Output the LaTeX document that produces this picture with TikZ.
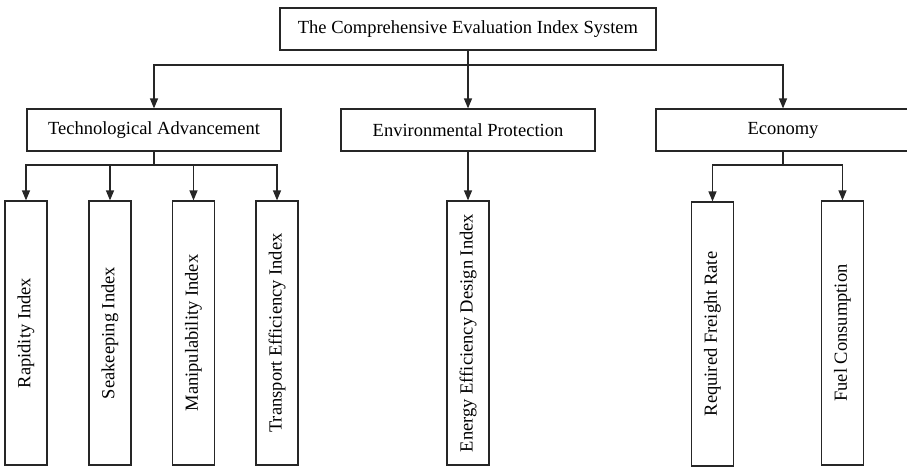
\documentclass[tikz,border=0pt]{standalone}
\usepackage{fontspec}
\setmainfont{Liberation Serif}
\usetikzlibrary{arrows.meta}
\begin{document}
\begin{tikzpicture}[x=1pt,y=-1pt,
  box/.style={draw=black!85,line width=1.2pt,rectangle,inner sep=0pt,align=center,
    font=\fontsize{18.5}{20}\selectfont},
  hbox/.style={box,minimum width=254pt,minimum height=42pt},
  vbox/.style={box,minimum width=42pt,minimum height=264pt},
  conn/.style={draw=black!85,line width=1.2pt},
  arr/.style={conn,-{Triangle[length=10pt,width=8pt]}}]
\useasboundingbox (0,0) rectangle (907,466);
\node[box,minimum width=376pt,minimum height=42pt] (top) at (468,29) {The Comprehensive Evaluation Index System};
\node[hbox] (tech) at (154,130) {Technological Advancement};
\node[hbox] (env) at (468,130) {Environmental Protection};
\node[hbox] (econ) at (783,130) {Economy};
\node[vbox] (r1) at (26,333) {\rotatebox{90}{Rapidity Index}};
\node[vbox] (r2) at (110,333) {\rotatebox{90}{Seakeeping Index}};
\node[vbox] (r3) at (193.5,333) {\rotatebox{90}{Manipulability Index}};
\node[vbox] (r4) at (277,333) {\rotatebox{90}{Transport Efficiency Index}};
\node[vbox] (e1) at (468,333) {\rotatebox{90}{Energy Efficiency Design Index}};
\node[vbox] (c1) at (712.5,334) {\rotatebox{90}{Required Freight Rate}};
\node[vbox] (c2) at (842.5,333) {\rotatebox{90}{Fuel Consumption}};
\coordinate (j0) at (468,65);
\coordinate (j1) at (154,165);
\coordinate (j2) at (783,165);
\draw[arr] (top.south) -- (env.north);
\draw[arr] (j0) -| (tech.north);
\draw[arr] (j0) -| (econ.north);
\draw[arr] (env.south) -- (e1.north);
\draw[conn] (tech.south) -- (j1);
\draw[arr] (j1) -| (r1.north);
\draw[arr] (j1) -| (r2.north);
\draw[arr] (j1) -| (r3.north);
\draw[arr] (j1) -| (r4.north);
\draw[conn] (econ.south) -- (j2);
\draw[arr] (j2) -| (c1.north);
\draw[arr] (j2) -| (c2.north);
\end{tikzpicture}
\end{document}
